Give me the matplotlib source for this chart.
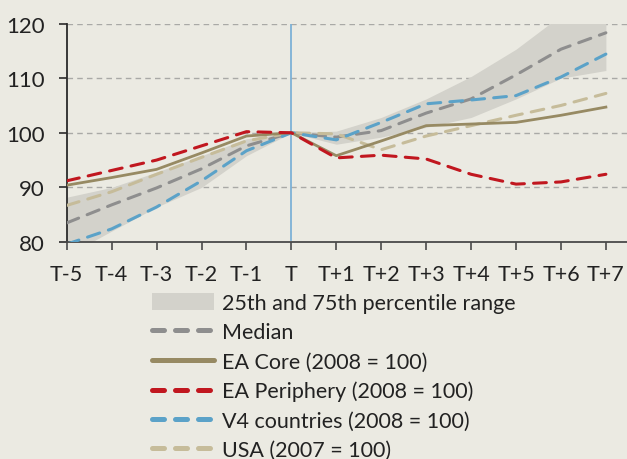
import matplotlib
matplotlib.use('Agg')
import matplotlib.pyplot as plt
from matplotlib.patches import Patch
from matplotlib.lines import Line2D

# Data
periods = ['T-5', 'T-4', 'T-3', 'T-2', 'T-1', 'T', 'T+1', 'T+2', 'T+3', 'T+4', 'T+5', 'T+6', 'T+7']
p25 = [77.5, 82.0, 86.4, 90.0, 95.8, 100, 97.9, 99.2, 101.0, 102.8, 106.2, 110.0, 111.4]
p75 = [88.2, 90.0, 92.8, 95.8, 98.9, 100, 100.3, 102.8, 106.2, 110.3, 115.3, 121.5, 123.0]
median = [83.5, 86.8, 89.9, 93.4, 97.6, 100, 99.2, 100.4, 103.6, 106.2, 110.6, 115.3, 118.3]
ea_core = [90.4, 91.8, 93.3, 96.3, 99.4, 100, 95.8, 98.5, 101.3, 101.6, 101.9, 103.2, 104.7]
ea_periphery = [91.2, 93.1, 95.0, 97.6, 100.2, 100, 95.4, 95.9, 95.2, 92.4, 90.6, 91.0, 92.4]
v4 = [79.6, 82.4, 86.4, 91.2, 96.7, 100, 98.7, 101.9, 105.3, 106.0, 106.8, 110.2, 114.4]
usa = [86.7, 89.2, 92.4, 95.5, 98.5, 100, 99.8, 96.9, 99.4, 101.3, 103.2, 105.0, 107.2]
y_ticks = [80, 90, 100, 110, 120]

labels = ['25th and 75th percentile range', 'Median', 'EA Core (2008 = 100)',
          'EA Periphery (2008 = 100)', 'V4 countries (2008 = 100)', 'USA (2007 = 100)']

BG = '#EBEAE2'
BAND = '#D3D2CB'
C_MED = '#8E8E8E'
C_CORE = '#978A63'
C_PER = '#C1171F'
C_V4 = '#5BA2C8'
C_USA = '#C6BC9A'

plt.rcParams['font.family'] = ['Lato', 'DejaVu Sans']
plt.rcParams['font.size'] = 15.5

fig = plt.figure(figsize=(6.27, 4.6), dpi=100, facecolor=BG)
ax = fig.add_axes([0.1064, 0.4717, 0.8936, 0.4750])
ax.set_facecolor(BG)

x = list(range(len(periods)))

ax.fill_between(x, p25, p75, color=BAND, lw=0, zorder=1)
ax.axvline(5, ymin=0.01, ymax=1, color='#7DB1D6', lw=1.3, zorder=2)

dash = (4.2, 3.0)
lw = 2.2
ax.plot(x, median, color=C_MED, lw=lw, dashes=dash, dash_capstyle='round', zorder=3)
ax.plot(x, usa, color=C_USA, lw=lw, dashes=dash, dash_capstyle='round', zorder=3)
ax.plot(x, v4, color=C_V4, lw=lw, dashes=dash, dash_capstyle='round', zorder=4)
ax.plot(x, ea_core, color=C_CORE, lw=2.0, zorder=4)
ax.plot(x, ea_periphery, color=C_PER, lw=lw, dashes=dash, dash_capstyle='round', zorder=5)

ax.set_ylim(80, 120)
ax.set_xlim(0, 12.47)
ax.set_yticks(y_ticks)
ax.set_xticks(x)
ax.set_xticklabels(periods)

for y in y_ticks[1:]:
    ax.axhline(y, color='#A9A9A6', lw=1.0, dashes=(4, 3), zorder=0.5)

for s in ['top', 'right']:
    ax.spines[s].set_visible(False)
ax.spines['left'].set_color('#2B2B2B')
ax.spines['left'].set_linewidth(1.3)
ax.spines['bottom'].set_color('#4A4A4A')
ax.spines['bottom'].set_linewidth(1.3)
ax.tick_params(axis='y', length=6, width=1.2, color='#2B2B2B', pad=10, labelcolor='#222222', labelsize=16)
ax.tick_params(axis='x', length=6, width=1.2, color='#4A4A4A', pad=10, labelcolor='#222222', labelsize=15.5)

handles = [
    Patch(facecolor=BAND, edgecolor='none'),
    Line2D([], [], color=C_MED, lw=3.6, dashes=(2.4, 2.2), dash_capstyle='round'),
    Line2D([], [], color=C_CORE, lw=3.6, solid_capstyle='round'),
    Line2D([], [], color=C_PER, lw=3.6, dashes=(2.4, 2.2), dash_capstyle='round'),
    Line2D([], [], color=C_V4, lw=3.6, dashes=(2.4, 2.2), dash_capstyle='round'),
    Line2D([], [], color=C_USA, lw=3.6, dashes=(2.4, 2.2), dash_capstyle='round'),
]
leg = fig.legend(handles, labels, loc='upper left', bbox_to_anchor=(152 / 627, 1 - 294 / 460),
                 frameon=False, fontsize=15.5, handlelength=2.9, handleheight=0.8,
                 handletextpad=0.35, labelspacing=0.43, borderpad=0, borderaxespad=0)
for t in leg.get_texts():
    t.set_color('#222222')

fig.savefig('out.png', dpi=100, facecolor=BG)
